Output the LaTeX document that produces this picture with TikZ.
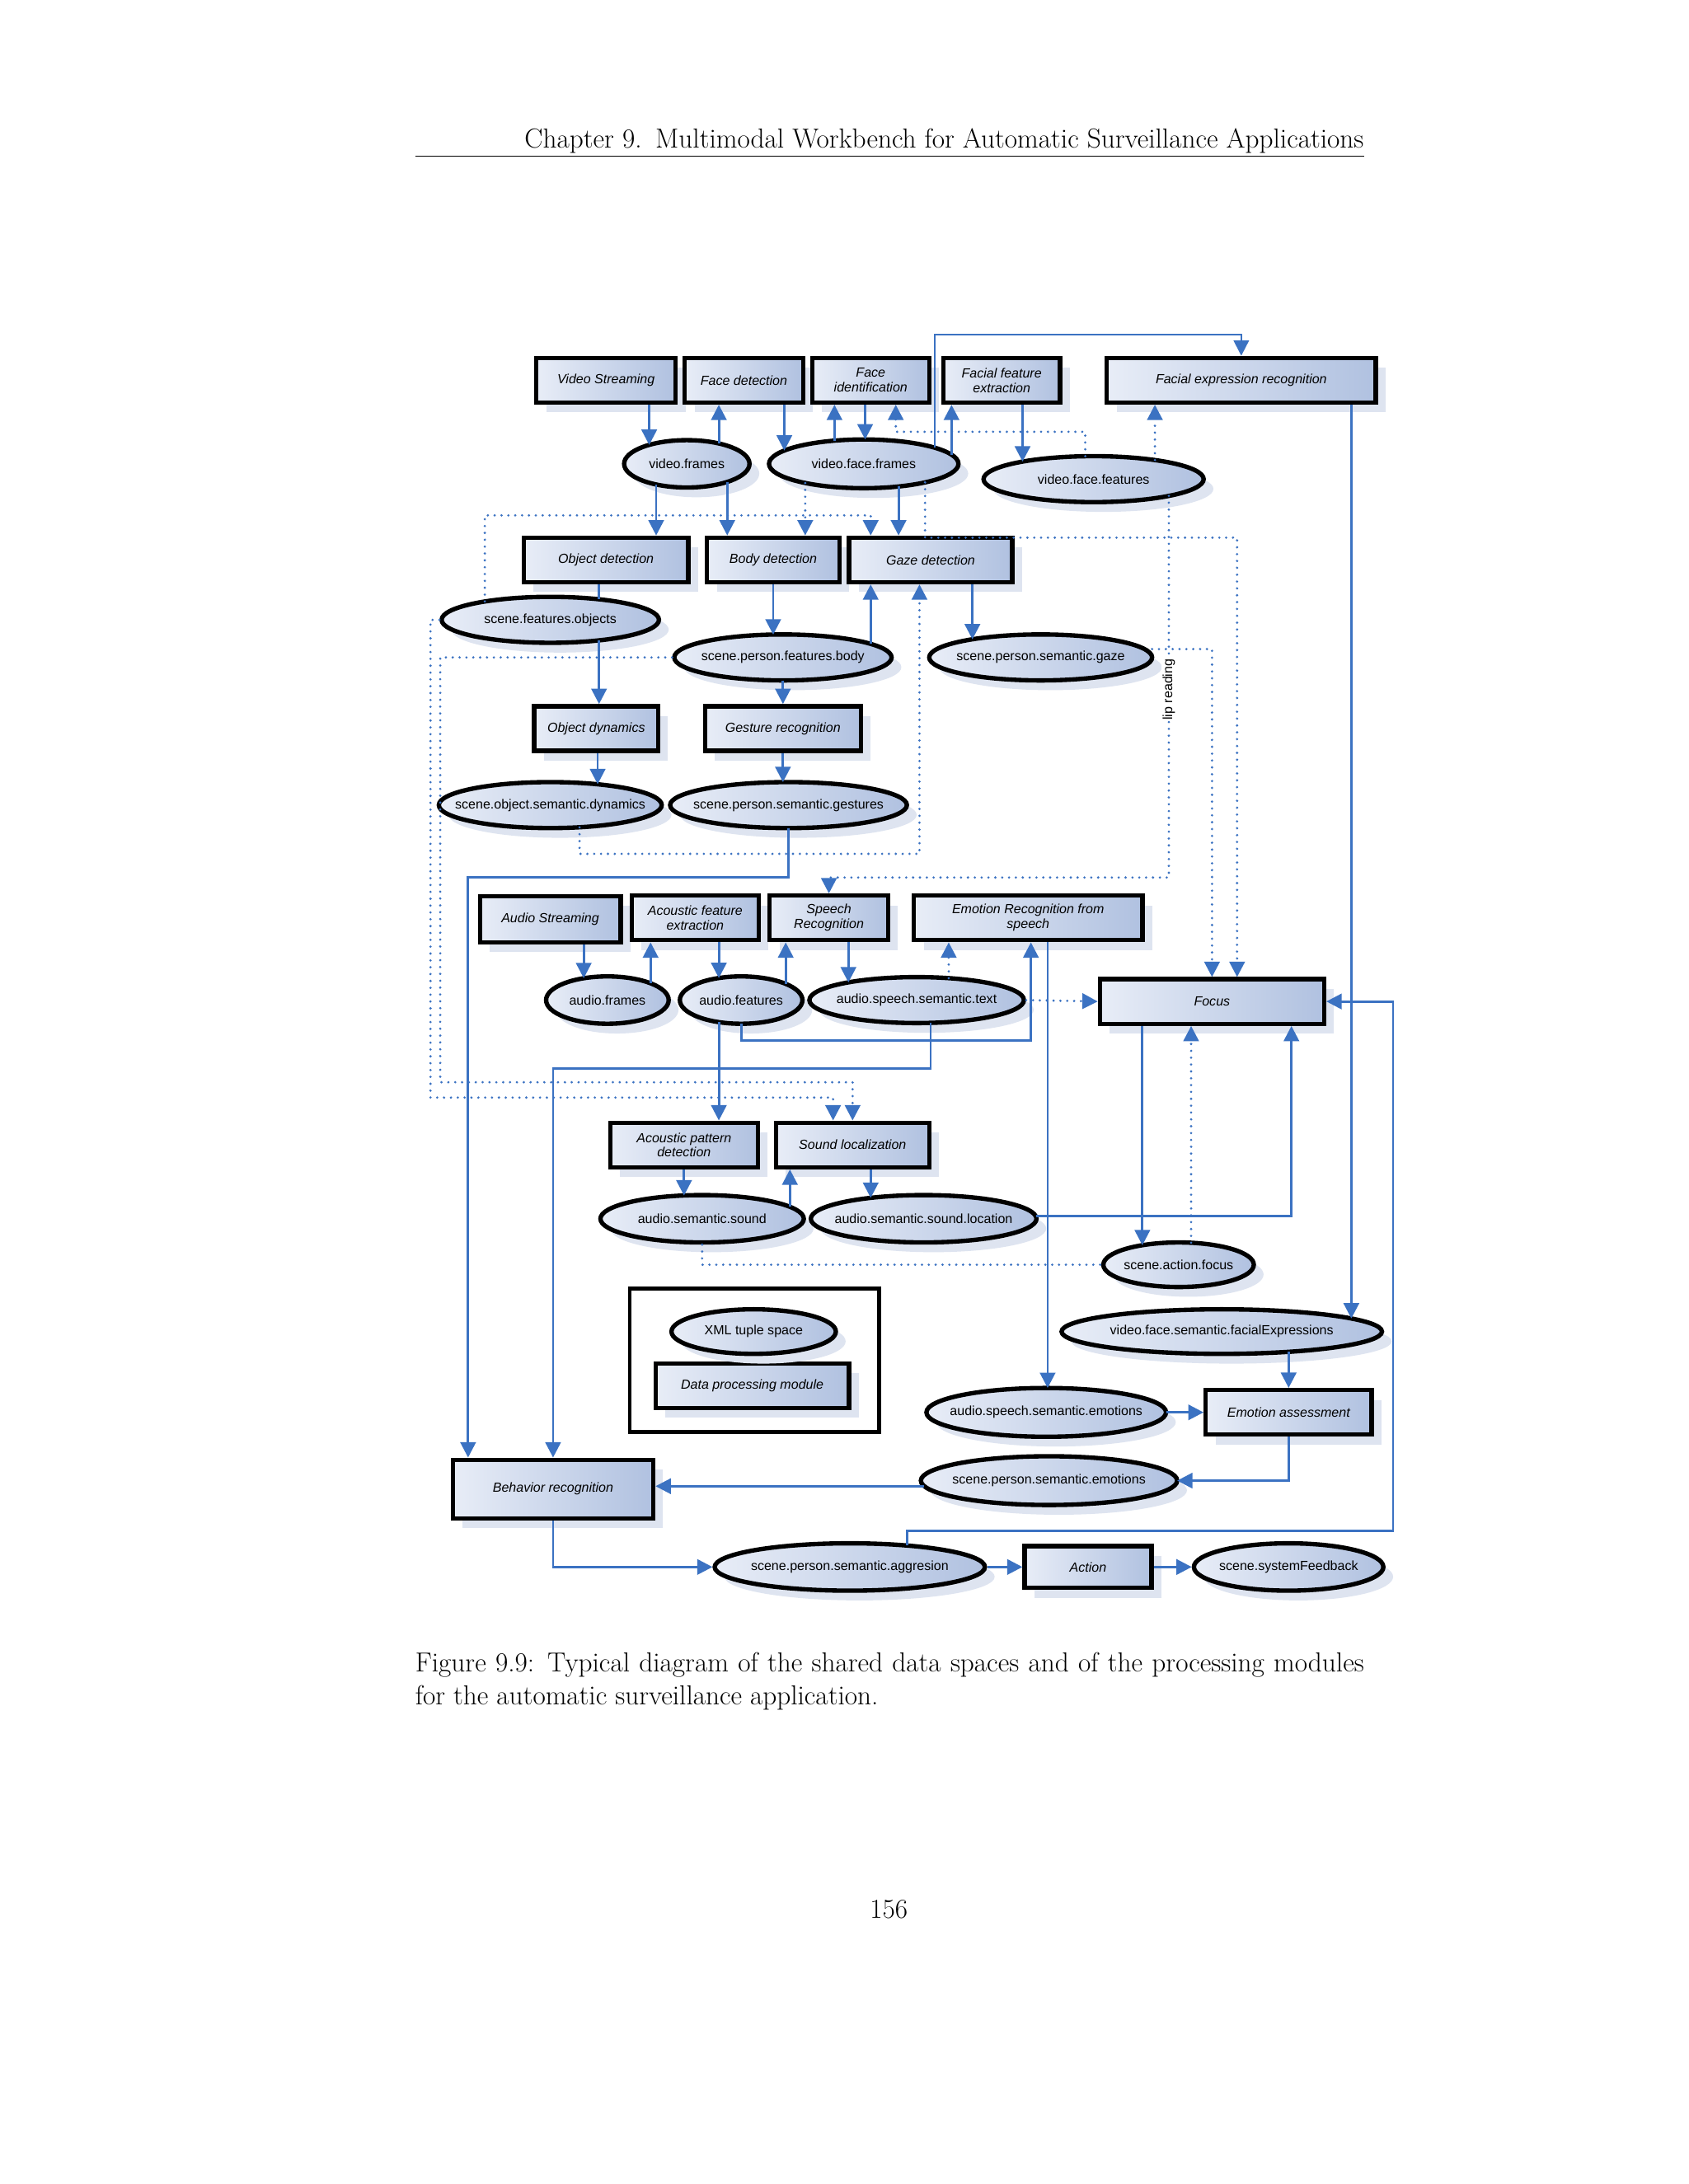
\documentclass[tikz,border=0pt]{standalone}
\usepackage{fontspec}
\newfontfamily\lab{Liberation Sans}
\usetikzlibrary{shapes.geometric,shadows,arrows.meta}
\definecolor{conn}{RGB}{59,114,194}
\definecolor{shad}{RGB}{222,228,240}
\definecolor{fillA}{RGB}{232,237,247}
\definecolor{fillB}{RGB}{176,193,224}
\tikzset{
 basefill/.style={left color=fillA,right color=fillB,draw=black,line width=4.5pt,
   drop shadow={shadow xshift=0.35cm,shadow yshift=-0.35cm,fill=shad,opacity=1}},
 box/.style={basefill,rectangle,inner sep=0pt,minimum height=1.6cm,align=center,
   font=\fontsize{13.5}{15}\selectfont\lab\itshape},
 ell/.style={basefill,ellipse,inner sep=0pt,minimum height=1.7cm,
   font=\fontsize{13.5}{15}\selectfont\lab},
 arr/.style={draw=conn,line width=2.4pt,-{Triangle[length=0.55cm,width=0.55cm]}},
 ln/.style={draw=conn,line width=2.4pt},
 thin arr/.style={draw=conn,line width=1.6pt,-{Triangle[length=0.55cm,width=0.55cm]}},
 dotl/.style={draw=conn,line width=2.6pt,line cap=round,dash pattern=on 0pt off 7pt},
 darr/.style={dotl,-{Triangle[length=0.55cm,width=0.55cm]}},
}
\newcommand\BX[5]{\node[box,minimum width=#3cm,minimum height=#4cm] (#1) at (#2) {#5};}
\newcommand\EL[5]{\node[ell,minimum width=#3cm,minimum height=#4cm] (#1) at (#2) {\makebox[0pt]{#5}};}
\begin{document}
\begin{tikzpicture}[x=0.05cm,y=-0.05cm]
\useasboundingbox[fill=white] (0,0) rectangle (1212,1568);
% header
\node[anchor=base east,inner sep=0pt,font=\fontsize{28}{34}\selectfont] (hdr) at (979,106) {Chapter 9.\enskip Multimodal Workbench for Automatic Surveillance Applications};
\draw[line width=1.3pt] (298,112) -- (979,112);
% boxes
\BX{vs}{435,273}{5.0}{1.6}{Video Streaming}
\BX{fd}{534,273}{4.25}{1.6}{Face detection}
\BX{fi}{625,273}{4.2}{1.6}{Face\\identification}
\BX{ffe}{719,273}{4.2}{1.6}{Facial feature\\extraction}
\BX{fer}{891,273}{9.65}{1.6}{Facial expression recognition}
\BX{od}{435,402}{5.9}{1.6}{Object detection}
\BX{bd}{555,402}{4.75}{1.6}{Body detection}
\BX{gd}{668,402}{5.85}{1.6}{Gaze detection}
\BX{odyn}{428,523}{4.45}{1.6}{Object dynamics}
\BX{gr}{562,523}{5.6}{1.6}{Gesture recognition}
\BX{as}{395,660}{5.05}{1.65}{Audio Streaming}
\BX{afe}{499,659}{4.55}{1.6}{Acoustic feature\\extraction}
\BX{sr}{595,659}{4.25}{1.6}{Speech\\Recognition}
\BX{ers}{738,659}{8.2}{1.6}{Emotion Recognition from\\speech}
\BX{focus}{870,719}{8.05}{1.6}{Focus}
\BX{apd}{491,822}{5.3}{1.6}{Acoustic pattern\\detection}
\BX{sl}{612,822}{5.5}{1.6}{Sound localization}
\node[draw,line width=4pt,minimum width=8.95cm,minimum height=5.15cm,inner sep=0pt] (legend) at (541.5,976.5) {};
\BX{dpm}{540,995}{6.95}{1.6}{Data processing module}
\BX{ea}{925,1014}{5.95}{1.6}{Emotion assessment}
\BX{br}{397,1069}{7.2}{2.1}{Behavior recognition}
\BX{act}{781,1125}{4.55}{1.5}{Action}
% ellipses
\EL{vf}{493,333}{4.5}{1.7}{video.frames}
\EL{vff}{620,333}{6.8}{1.75}{video.face.frames}
\EL{vffe}{785,344}{7.9}{1.65}{video.face.features}
\EL{sfo}{395,445}{7.8}{1.65}{scene.features.objects}
\EL{spfb}{562,472}{7.8}{1.65}{scene.person.features.body}
\EL{spsg}{747,472}{8.0}{1.65}{scene.person.semantic.gaze}
\EL{sosd}{395,578}{8.0}{1.65}{scene.object.semantic.dynamics}
\EL{spsge}{566,578}{8.5}{1.65}{scene.person.semantic.gestures}
\EL{af}{436,718}{4.4}{1.7}{audio.frames}
\EL{afeat}{532,718}{4.4}{1.7}{audio.features}
\EL{asst}{658,718}{7.7}{1.65}{audio.speech.semantic.text}
\EL{ass}{504,875}{7.3}{1.7}{audio.semantic.sound}
\EL{assl}{663,875}{8.1}{1.7}{audio.semantic.sound.location}
\EL{saf}{846,908}{5.4}{1.6}{scene.action.focus}
\EL{xml}{541,956}{5.9}{1.6}{XML tuple space}
\EL{vfsfe}{877,956}{11.5}{1.6}{video.face.semantic.facialExpressions}
\EL{asse}{751,1014}{8.6}{1.75}{audio.speech.semantic.emotions}
\EL{spse}{753,1063}{9.2}{1.75}{scene.person.semantic.emotions}
\EL{spsa}{610,1125}{9.7}{1.7}{scene.person.semantic.aggresion}
\EL{ssf}{925,1125}{6.8}{1.7}{scene.systemFeedback}
% solid connectors
\draw[arr] (vs.south -| 466,0) -- (466,319.4);
\draw[arr] (516,318.4) -- (fd.south -| 516,0);
\draw[arr] (fd.south -| 563,0) -- (563,323.5);
\draw[arr] (599,316.4) -- (fi.south -| 599,0);
\draw[arr] (fi.south -| 621,0) -- (621,315.5);
\draw[arr] (683,326.4) -- (ffe.south -| 683,0);
\draw[arr] (ffe.south -| 734,0) -- (734,331.4);
\draw[thin arr] (671,321.4) -- (671,240) -- (891,240) -- (fer.north);
\draw[arr] (471,347.8) -- (od.north -| 471,0);
\draw[arr] (522,346) -- (bd.north -| 522,0);
\draw[arr] (645,349.3) -- (gd.north -| 645,0);
\draw[arr] (fer.south -| 970,0) -- (970,946.6);
\draw[ln] (od.south -| 430,0) -- (430,430.3);
\draw[arr] (430,459.7) -- (odyn.north -| 430,0);
\draw[arr] (bd.south -| 555,0) -- (555,455.6);
\draw[arr] (625,462.3) -- (gd.south -| 625,0);
\draw[arr] (gd.south -| 698,0) -- (698,459);
\draw[arr] (562,488.5) -- (gr.north -| 562,0);
\draw[arr] (odyn.south -| 429,0) -- (429,563);
\draw[arr] (gr.south -| 562,0) -- (562,561.5);
\draw[arr] (566,594.5) -- (566,630) -- (336,630) -- (br.north -| 336,0);
\draw[arr] (as.south -| 419,0) -- (419,702.3);
\draw[arr] (467,706) -- (afe.south -| 467,0);
\draw[arr] (afe.south -| 516,0) -- (516,702.2);
\draw[arr] (564,706.3) -- (sr.south -| 564,0);
\draw[arr] (sr.south -| 609,0) -- (609,705.3);
\draw[arr] (532,735) -- (532,747) -- (740,747) -- (ers.south -| 740,0);
\draw[arr] (ers.south -| 752,0) -- (752,996.5);
\draw[arr] (668,734.4) -- (668,767) -- (397,767) -- (br.north -| 397,0);
\draw[arr] (516,733.8) -- (apd.north -| 516,0);
\draw[arr] (apd.south -| 491,0) -- (491,858.3);
\draw[arr] (567,866.4) -- (sl.south -| 567,0);
\draw[arr] (sl.south -| 625,0) -- (625,860);
\draw[arr] (744,873) -- (927,873) -- (focus.south -| 927,0);
\draw[arr] (focus.south -| 820,0) -- (820,894);
\draw[arr] (925,970.5) -- (ea.north -| 925,0);
\draw[arr] (837,1014) -- (ea.west);
\draw[arr] (ea.south) -- (925,1063) -- (845,1063);
\draw[arr] (663,1067) -- (br.east |- 0,1067);
\draw[arr] (br.south) -- (397,1125) -- (spsa.west);
\draw[arr] (spsa.east) -- (act.west);
\draw[arr] (act.east) -- (ssf.west);
\draw[arr] (651,1109.6) -- (651,1099) -- (1000,1099) -- (1000,719) -- (focus.east);
% dotted connectors
\draw[darr] (779,327.5) -- (779,310) -- (643,310) -- (fi.south -| 643,0);
\draw[darr] (829,330.3) -- (fer.south -| 829,0);
\draw[darr] (839,356) -- (839,630) -- (595,630) -- (sr.north -| 595,0);
\node[rotate=90,fill=white,inner sep=1pt,font=\fontsize{13.5}{15}\selectfont\lab] (lip) at (839,495) {lip reading};
\draw[darr] (578,346.8) -- (bd.north -| 578,0);
\draw[darr] (348,431.8) -- (348,370) -- (625,370) -- (gd.north -| 625,0);
\draw[darr] (664,346.3) -- (664,386) -- (888,386) -- (focus.north -| 888,0);
\draw[darr] (827,466) -- (870,466) -- (focus.north -| 870,0);
\draw[darr] (416,594) -- (416,613) -- (660,613) -- (gd.south -| 660,0);
\draw[darr] (spfb.west) -- (316,472) -- (316,777) -- (612,777) -- (sl.north -| 612,0);
\draw[darr] (sfo.west) -- (309,445) -- (309,788) -- (598,788) -- (sl.north -| 598,0);
\draw[darr] (681,702.3) -- (ers.south -| 681,0);
\draw[darr] (asst.east) -- (focus.west);
\draw[darr] (855,892.2) -- (focus.south -| 855,0);
\draw[dotl] (ass.south) -- (504,908) -- (saf.west);
% caption
\node[anchor=north west,inner sep=0pt,text width=34.05cm,align=justify,font=\fontsize{28}{34}\selectfont] (cap) at (298,1186) {Figure 9.9: Typical diagram of the shared data spaces and of the processing modules for the automatic surveillance application.};
\node[font=\fontsize{28}{34}\selectfont] (pg) at (638,1371) {156};
\end{tikzpicture}
\end{document}
